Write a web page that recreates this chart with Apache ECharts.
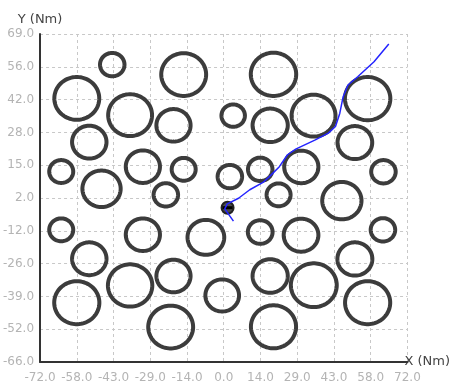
<!DOCTYPE html>
<html>
<head>
<meta charset="utf-8">
<script src="https://cdn.jsdelivr.net/npm/echarts@6/dist/echarts.min.js"></script>
<style>
html,body{margin:0;padding:0;background:#fff;}
#chart{width:453px;height:385px;}
</style>
</head>
<body>
<div id="chart"></div>
<script>
// Axis definition
const X_MIN = -72, X_MAX = 72, X_STEP = 14.4;
const Y_MIN = -66, Y_MAX = 69, Y_STEP = 13.5;
const xTickLabels = ['-72.0','-58.0','-43.0','-29.0','-14.0','0.0','14.0','29.0','43.0','58.0','72.0'];
const yTickLabels = ['-66.0','-52.0','-39.0','-26.0','-12.0','2.0','15.0','28.0','42.0','56.0','69.0'];

// Obstacles (circle centers and radii, data units)
const obstacleX = [-43.7,-57.6,-36.7,-15.7,-19.7,-52.7,-63.7,-31.7,-15.7,-47.9,-22.7,3.7,2.4,19.5,18.2,35.2,56.4,51.4,62.6,30.4,14.3,21.5,46.3,-63.7,-31.7,-7.0,-52.7,-36.7,-19.7,-57.6,-20.8,-0.6,14.3,30.3,62.4,51.4,18.2,35.3,56.4,19.5];
const obstacleY = [56.4,42.5,35.6,52.3,31.4,24.5,12.4,14.4,13.3,5.3,2.8,35.4,10.3,52.4,31.4,35.4,42.4,24.3,12.3,14.3,13.3,2.8,0.4,-11.6,-13.6,-14.7,-23.5,-34.5,-30.6,-41.6,-51.6,-38.6,-12.5,-13.8,-11.6,-23.6,-30.6,-34.4,-41.6,-51.5];
const obstacleR = [4.8,8.8,8.6,8.8,6.7,6.75,4.7,6.7,4.7,7.5,4.8,4.6,4.8,8.9,6.9,8.6,8.9,6.8,4.8,6.7,4.8,4.7,7.7,4.7,6.7,7.2,6.75,8.7,6.7,8.85,8.8,6.6,4.85,6.8,4.8,6.85,6.9,9.0,8.85,8.85];

// Robot trajectory
const pathX = [3.8,0.4,1.4,5.8,10.2,15.4,17.9,21.8,25.0,28.2,35.9,41.0,43.8,45.5,46.8,48.7,52.5,58.9,64.7];
const pathY = [-8.0,-3.0,-0.9,1.4,4.9,7.9,10.3,14.4,19.3,21.6,25.4,28.2,30.9,36.4,43.2,48.0,51.4,57.6,64.9];

// Robot position
const robotX = [1.5];
const robotY = [-2.5];

const obstacleData = obstacleX.map((x, i) => [x, obstacleY[i], obstacleR[i]]);
const pathData = pathX.map((x, i) => [x, pathY[i]]);
const robotData = robotX.map((x, i) => [x, robotY[i]]);

function renderObstacle(params, api) {
  const cx = api.value(0), cy = api.value(1), r = api.value(2);
  const pts = [];
  const n = 90;
  for (let i = 0; i < n; i++) {
    const t = i / n * Math.PI * 2;
    pts.push(api.coord([cx + r * Math.cos(t), cy + r * Math.sin(t)]));
  }
  return {
    type: 'polygon',
    shape: { points: pts },
    style: { fill: 'none', stroke: '#3c3c3c', lineWidth: 4 }
  };
}

function renderRobot(params, api) {
  const p = api.coord([api.value(0), api.value(1)]);
  return {
    type: 'group',
    children: [
      { type: 'circle', shape: { cx: p[0], cy: p[1], r: 6 },
        style: { fill: '#4a4a4a', stroke: '#222', lineWidth: 2 } },
      { type: 'rect', shape: { x: p[0] - 5, y: p[1] - 1.5, width: 10, height: 3 },
        style: { fill: '#000' } }
    ]
  };
}

const chart = echarts.init(document.getElementById('chart'), null, { renderer: 'canvas' });
const labelFont = 'DejaVu Sans';
chart.setOption({
  animation: false,
  backgroundColor: '#fff',
  grid: { left: 36, right: 42, top: 34, bottom: 23, containLabel: false },
  xAxis: {
    type: 'value', min: X_MIN, max: X_MAX, interval: X_STEP,
    name: 'X (Nm)', nameLocation: 'end', nameGap: -3,
    nameTextStyle: { color: '#444', fontSize: 13, fontFamily: labelFont, verticalAlign: 'middle' },
    axisLine: { show: true, onZero: false, lineStyle: { color: '#333', width: 2 } },
    axisTick: { show: false },
    axisLabel: { color: '#b4b4b4', fontSize: 12, fontFamily: labelFont, margin: 10,
      formatter: v => xTickLabels[Math.round((v - X_MIN) / X_STEP)] },
    splitLine: { show: true, lineStyle: { color: '#c8c8c8', width: 1, type: [3, 3] } }
  },
  yAxis: {
    type: 'value', min: Y_MIN, max: Y_MAX, interval: Y_STEP,
    name: 'Y (Nm)', nameLocation: 'end', nameGap: 8,
    nameTextStyle: { color: '#444', fontSize: 13, fontFamily: labelFont, align: 'center' },
    axisLine: { show: true, onZero: false, lineStyle: { color: '#333', width: 2 } },
    axisTick: { show: false },
    axisLabel: { color: '#b4b4b4', fontSize: 12, fontFamily: labelFont, margin: 6,
      formatter: v => yTickLabels[Math.round((v - Y_MIN) / Y_STEP)] },
    splitLine: { show: true, lineStyle: { color: '#c8c8c8', width: 1, type: [3, 3] } }
  },
  series: [
    { type: 'custom', name: 'obstacles', renderItem: renderObstacle, data: obstacleData,
      encode: { x: 0, y: 1 }, z: 2, silent: true },
    { type: 'custom', name: 'robot', renderItem: renderRobot, data: robotData,
      encode: { x: 0, y: 1 }, z: 3, silent: true },
    { type: 'line', name: 'path', data: pathData, showSymbol: false, symbol: 'none',
      lineStyle: { color: '#2424ff', width: 1.5 }, z: 4, silent: true }
  ]
});
</script>
</body>
</html>
